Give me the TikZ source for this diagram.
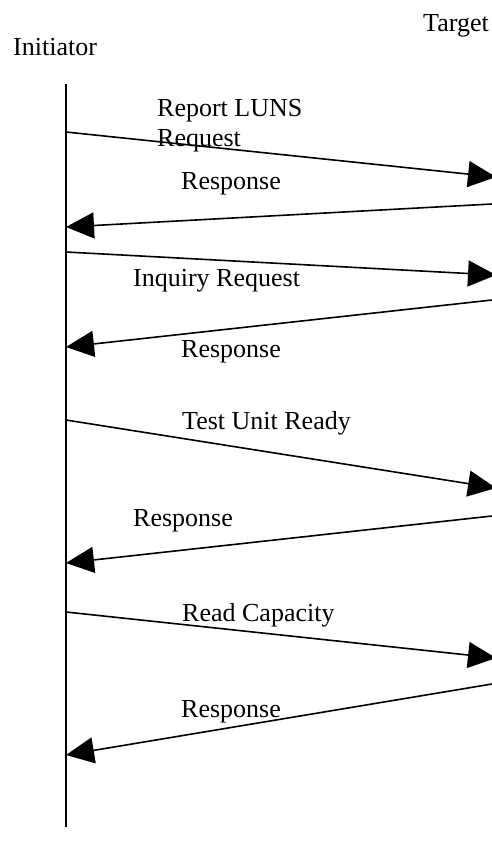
\documentclass[tikz,border=0pt]{standalone}
\usepackage{fontspec}
\setmainfont{Liberation Serif}
\usetikzlibrary{arrows.meta}
\begin{document}
\begin{tikzpicture}[x=1pt,y=-1pt,
  lbl/.style={inner sep=0pt,anchor=base west,font=\fontsize{26}{30}\selectfont},
  msg/.style={line width=1.6pt,-{Triangle[length=28pt,width=26pt]}},
  life/.style={line width=2pt}]
\useasboundingbox (0,0) rectangle (492,844);
% participants
\node[lbl] (tgt) at (423,31) {Target};
\node[lbl] (ini) at (13,55) {Initiator};
% lifeline
\coordinate (ltop) at (66,84);
\coordinate (lbot) at (66,827);
\draw[life] (ltop) -- (lbot);
% endpoints
\coordinate (a1) at (66,132);  \coordinate (b1) at (496,177);
\coordinate (b2) at (492,204);  \coordinate (a2) at (66,227);
\coordinate (a3) at (66,252);  \coordinate (b3) at (496,275);
\coordinate (b4) at (492,300);  \coordinate (a4) at (66,347);
\coordinate (a5) at (66,420);  \coordinate (b5) at (496,488);
\coordinate (b6) at (492,516);  \coordinate (a6) at (66,563);
\coordinate (a7) at (66,612);  \coordinate (b7) at (496,658);
\coordinate (b8) at (492,684);  \coordinate (a8) at (66,755);
% messages
\draw[msg] (a1) -- (b1);
\draw[msg] (b2) -- (a2);
\draw[msg] (a3) -- (b3);
\draw[msg] (b4) -- (a4);
\draw[msg] (a5) -- (b5);
\draw[msg] (b6) -- (a6);
\draw[msg] (a7) -- (b7);
\draw[msg] (b8) -- (a8);
% labels
\node[lbl,anchor=north west,align=left] (l1) at (157,99.5) {Report LUNS\\Request};
\node[lbl] (l2) at (181,189) {Response};
\node[lbl] (l3) at (133,286) {Inquiry Request};
\node[lbl] (l4) at (181,357) {Response};
\node[lbl] (l5) at (182,429) {Test Unit Ready};
\node[lbl] (l6) at (133,526) {Response};
\node[lbl] (l7) at (182,621) {Read Capacity};
\node[lbl] (l8) at (181,717) {Response};
\end{tikzpicture}
\end{document}
